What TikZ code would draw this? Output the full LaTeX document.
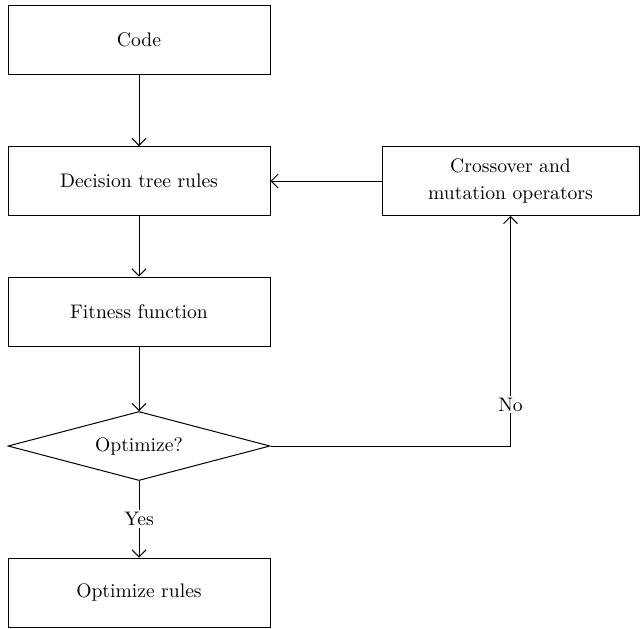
\documentclass[tikz,border=0pt]{standalone}
\usepackage{tikz}
\usetikzlibrary{arrows,arrows.meta,shapes.geometric}

\begin{document}
\begin{tikzpicture}[->,>={Straight Barb[length=3.5pt,width=7pt]},x=1pt,y=1pt,line width=0.5pt,
    font=\fontsize{9.8}{13.5}\selectfont,
    block/.style={draw,rectangle,minimum width=131pt,minimum height=34.5pt,align=center},
    decide/.style={draw,diamond,aspect=3.8,inner sep=0pt,minimum width=131pt,minimum height=34.5pt}]
  \useasboundingbox (0,0) rectangle (320,-314);

  \node[block]		(code)	at (69.5,-19.75)					{Code};
  \node[block]		(rules)	[below of=code,node distance=70.75pt]		{Decision tree rules};
  \node[block,minimum width=128.5pt]	(ops)	[right of=rules,node distance=185.75pt]	{Crossover and\\mutation operators};
  \node[block]		(fit)	[below of=rules,node distance=65.25pt]		{Fitness function};
  \node[decide]		(opt)	[below of=fit,node distance=67.25pt]		{Optimize?};
  \node[block]		(out)	[below of=opt,node distance=73.25pt]		{Optimize rules};

  \path	(code) edge (rules)
		(rules) edge (fit)
		(fit) edge (opt)
		(opt) edge node[fill=white,inner sep=1pt] {Yes} (out)
		(ops) edge (rules);
  \draw (opt.east) -| node[pos=0.59,fill=white,inner sep=1pt] {No} (ops.south);
\end{tikzpicture}
\end{document}
